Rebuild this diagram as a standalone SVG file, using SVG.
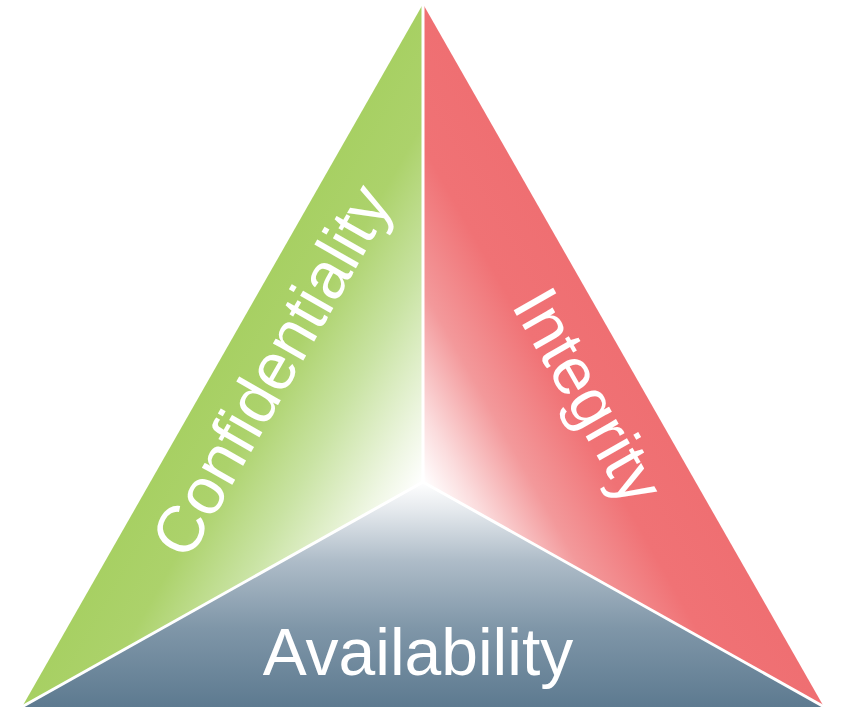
<svg xmlns="http://www.w3.org/2000/svg" width="841" height="708" viewBox="0 0 841 708">
<defs>
<linearGradient id="gGreen" gradientUnits="userSpaceOnUse" x1="423" y1="482" x2="217" y2="365">
<stop offset="0" stop-color="#ffffff"/>
<stop offset="0.15" stop-color="#eef6e2"/>
<stop offset="0.45" stop-color="#c9e3a3"/>
<stop offset="0.75" stop-color="#acd26b"/>
<stop offset="1" stop-color="#a7d063"/>
</linearGradient>
<linearGradient id="gRed" gradientUnits="userSpaceOnUse" x1="423" y1="482" x2="629" y2="365">
<stop offset="0" stop-color="#ffffff"/>
<stop offset="0.15" stop-color="#fbdcdd"/>
<stop offset="0.4" stop-color="#f3999b"/>
<stop offset="0.7" stop-color="#f07275"/>
<stop offset="1" stop-color="#ef6f72"/>
</linearGradient>
<linearGradient id="gBlue" gradientUnits="userSpaceOnUse" x1="0" y1="482" x2="0" y2="707">
<stop offset="0" stop-color="#ffffff"/>
<stop offset="0.12" stop-color="#e6eaee"/>
<stop offset="0.35" stop-color="#aebcc8"/>
<stop offset="0.65" stop-color="#7f96a8"/>
<stop offset="1" stop-color="#5d7a90"/>
</linearGradient>
<style>
.lbl{font-family:"Liberation Sans",Arial,sans-serif;font-size:66px;fill:#ffffff;text-anchor:middle}
.seam{stroke:#ffffff;stroke-width:3;fill:none}
</style>
</defs>
<g id="confidentiality">
<polygon points="423,4 423,482 22,707" fill="url(#gGreen)"/>
<text class="lbl" transform="translate(291,382) rotate(-60.3)">Confidentiality</text>
</g>
<g id="integrity">
<polygon points="423,4 824,707 423,482" fill="url(#gRed)"/>
<text class="lbl" transform="translate(569,407) rotate(60.3)">Integrity</text>
</g>
<g id="availability">
<polygon points="22,707 423,482 824,707" fill="url(#gBlue)"/>
<text class="lbl" x="418" y="675">Availability</text>
</g>
<g id="connectors">
<line class="seam" x1="423" y1="0" x2="423" y2="482"/>
<line class="seam" x1="423" y1="482" x2="18" y2="709"/>
<line class="seam" x1="423" y1="482" x2="828" y2="709"/>
</g>
</svg>
